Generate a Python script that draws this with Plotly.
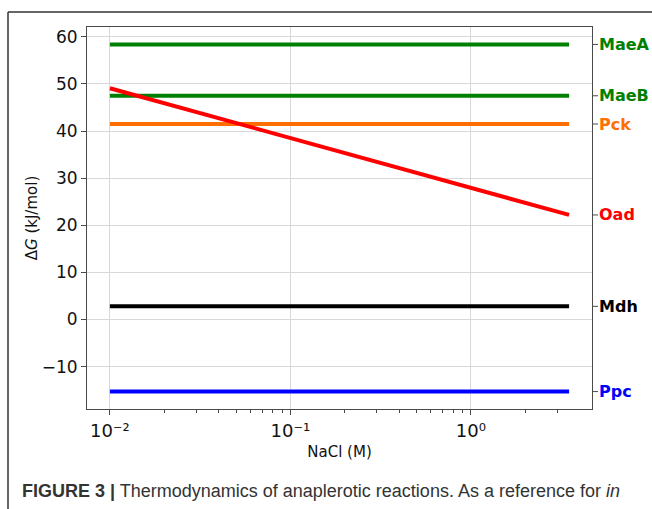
import plotly.graph_objects as go

# ---- data ----
nacl_flat = [0.01, 3.5]
maea = [58.4, 58.4]
maeb = [47.5, 47.5]
pck = [41.5, 41.5]
mdh = [2.8, 2.8]
ppc = [-15.3, -15.3]
nacl_oad = [0.01, 0.1, 1.0, 3.5]
oad = [49.1, 38.5, 28.0, 22.2]

x_tickvals = [0.01, 0.1, 1]
x_ticktext = ["10⁻²", "10⁻¹", "10⁰"]
y_tickvals = [-10, 0, 10, 20, 30, 40, 50, 60]

names = ["MaeA", "MaeB", "Pck", "Oad", "Mdh", "Ppc"]
colors = ["#008000", "#008000", "#ff6e00", "#ff0000", "#000000", "#0000ff"]
series_x = [nacl_flat, nacl_flat, nacl_flat, nacl_oad, nacl_flat, nacl_flat]
series_y = [maea, maeb, pck, oad, mdh, ppc]

W, H = 652, 509
L, R, T, B = 87, 60, 27, 100
pw, ph = W - L - R, H - T - B

def px(x):
    return (x - L) / pw

def py(y):
    return (H - B - y) / ph

fig = go.Figure()
for n, c, xs, ys in zip(names, colors, series_x, series_y):
    fig.add_trace(go.Scatter(x=xs, y=ys, mode="lines", name=n,
                             line=dict(color=c, width=4), showlegend=False))

right_vals = [ys[-1] for ys in series_y]

yr = [-19.0, 62.1]
spine = "#4a4a4a"
fig.update_layout(
    width=W, height=H,
    margin=dict(l=L, r=R, t=T, b=B, autoexpand=False),
    paper_bgcolor="white", plot_bgcolor="white",
    font=dict(family="DejaVu Sans", color="#111111", size=15),
    xaxis=dict(
        type="log", range=[-2.127, 0.671], automargin=False,
        tickvals=x_tickvals, ticktext=x_ticktext,
        ticks="outside", ticklen=5, tickcolor=spine, tickfont=dict(size=18),
        showgrid=True, gridcolor="#d8d8d8", gridwidth=1,
        showline=True, linecolor=spine, linewidth=1, mirror=True,
        zeroline=False,
        minor=dict(ticks="outside", ticklen=3, tickcolor=spine, showgrid=False,
                   tickvals=[0.02, 0.03, 0.04, 0.05, 0.06, 0.07, 0.08, 0.09,
                             0.2, 0.3, 0.4, 0.5, 0.6, 0.7, 0.8, 0.9, 2, 3]),
        title=dict(text="NaCl (M)", font=dict(size=15), standoff=6),
    ),
    yaxis=dict(
        range=yr, tickvals=y_tickvals, automargin=False,
        ticks="outside", ticklen=5, tickcolor=spine, tickfont=dict(size=17),
        showgrid=True, gridcolor="#d8d8d8", gridwidth=1,
        showline=True, linecolor=spine, linewidth=1, mirror=True,
        zeroline=False,
        title=dict(text="Δ<i>G</i> (kJ/mol)", font=dict(size=15), standoff=0),
    ),
)

# right-hand reaction labels (with a short tick) at each line's end value
for n, c, v in zip(names, colors, right_vals):
    fig.add_annotation(xref="paper", yref="y", x=1.0, y=v, xanchor="left",
                       yanchor="middle", showarrow=True, arrowhead=0, arrowwidth=1,
                       arrowcolor=spine, ax=6, ay=0, standoff=0, startstandoff=0,
                       borderpad=0, text=n,
                       font=dict(family="DejaVu Sans", size=16, color=c, weight="bold"))

# outer figure frame (top and left edges)
frame = "#333333"
fig.add_shape(type="line", xref="paper", yref="paper",
              x0=px(8), x1=px(W + 5), y0=py(12), y1=py(12),
              line=dict(color=frame, width=1.5))
fig.add_shape(type="line", xref="paper", yref="paper",
              x0=px(8), x1=px(8), y0=py(12), y1=py(H + 5),
              line=dict(color=frame, width=1.5))

fig.add_annotation(
    xref="paper", yref="paper", x=px(20), y=py(491), xanchor="left", yanchor="middle",
    showarrow=False,
    text="<b>FIGURE 3 |</b> Thermodynamics of anaplerotic reactions. As a reference for <i>in</i>",
    font=dict(family="Liberation Sans", size=18, color="#333333"),
)

fig.write_html("out.html")
